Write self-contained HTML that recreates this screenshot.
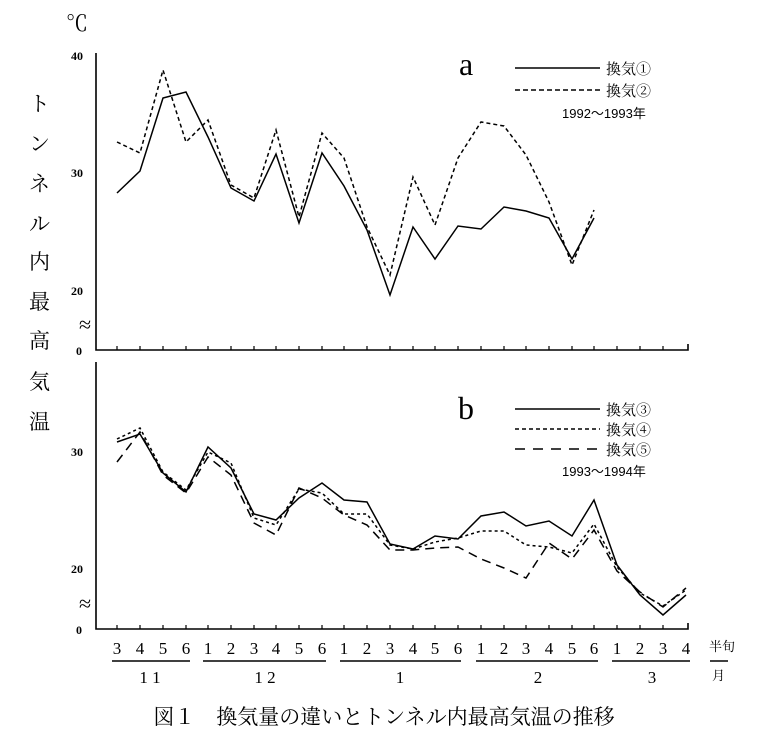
<!DOCTYPE html>
<html><head><meta charset="utf-8"><style>
body{margin:0;background:#fff}
svg text{font-family:"Liberation Serif","Noto Serif CJK SC","Noto Sans CJK JP",serif;fill:#000}
.s{font-family:"Liberation Sans","Noto Sans CJK JP",sans-serif}
</style></head><body>
<svg width="767" height="737" viewBox="0 0 767 737" xmlns="http://www.w3.org/2000/svg">
<g font-size="21">
<text x="29" y="111">ト</text><text x="29" y="151">ン</text><text x="29" y="191">ネ</text>
<text x="29" y="231">ル</text><text x="29" y="269">内</text><text x="29" y="309">最</text>
<text x="29" y="348">高</text><text x="29" y="389">気</text><text x="29" y="429">温</text>
</g>
<text x="66" y="31" font-size="22">℃</text>
<g font-size="12" class="s" font-weight="bold">
<text x="71" y="60">40</text><text x="71" y="177">30</text><text x="71" y="295">20</text><text x="76" y="355">0</text>
<text x="71" y="456">30</text><text x="71" y="573">20</text><text x="76" y="634">0</text>
</g>
<text x="79" y="332" font-size="22">≈</text>
<text x="79" y="611" font-size="22">≈</text>
<g stroke="#000" fill="none" stroke-width="1.6">
<path d="M96 53 V350 H688 V344"/>
<path d="M96 362 V629 H688 V623"/>
</g>
<g stroke="#000" stroke-width="1.2">
<path d="M117 350v-4M140 350v-4M163 350v-4M186 350v-4M208 350v-4M231 350v-4M254 350v-4M276 350v-4M299 350v-4M322 350v-4M344 350v-4M367 350v-4M390 350v-4M413 350v-4M435 350v-4M458 350v-4M481 350v-4M504 350v-4M526 350v-4M549 350v-4M572 350v-4M594 350v-4M617 350v-4M640 350v-4M663 350v-4"/>
<path d="M117 629v-4M140 629v-4M163 629v-4M186 629v-4M208 629v-4M231 629v-4M254 629v-4M276 629v-4M299 629v-4M322 629v-4M344 629v-4M367 629v-4M390 629v-4M413 629v-4M435 629v-4M458 629v-4M481 629v-4M504 629v-4M526 629v-4M549 629v-4M572 629v-4M594 629v-4M617 629v-4M640 629v-4M663 629v-4"/>
</g>
<g fill="none" stroke="#000" stroke-width="1.5">
<polyline points="117,193 140,171 163,98 186,92 208,137 231,188 254,201 276,154 299,223 322,153 344,186 367,230 390,295 413,227 435,259 458,226 481,229 504,207 526,211 549,218 572,259 594,218"/>
<polyline stroke-dasharray="4,3" points="117,142 140,153 163,70 186,142 208,120 231,185 254,198 276,130 299,217 322,133 344,158 367,227 390,275 413,177 435,225 458,158 481,122 504,126 526,155 549,202 572,265 594,210"/>
<polyline points="117,442 140,434 163,473 186,492 208,447 231,468 254,514 276,520 299,498 322,483 344,500 367,502 390,544 413,549 435,536 458,539 481,516 504,512 526,526 549,521 572,536 594,500 617,565 640,595 663,615 686,595"/>
<polyline stroke-dasharray="3,3" points="117,439 140,428 163,472 186,490 208,452 231,463 254,518 276,525 299,489 322,493 344,514 367,514 390,545 413,549 435,542 458,538 481,531 504,531 526,545 549,547 572,553 594,524 617,567 640,593 663,606 686,590"/>
<polyline stroke-dasharray="9,6" points="117,462 140,432 163,475 186,493 208,457 231,475 254,523 276,535 299,488 322,498 344,515 367,525 390,550 413,550 435,548 458,547 481,559 504,568 526,578 549,543 572,559 594,530 617,571 640,592 663,607 686,588"/>
</g>
<text x="459" y="75" font-size="32">a</text>
<text x="458" y="419" font-size="32">b</text>
<g stroke="#000" stroke-width="1.5">
<path d="M515 68H600"/><path d="M515 90H600" stroke-dasharray="5,3"/>
<path d="M515 409H600"/><path d="M515 429H600" stroke-dasharray="4,3"/><path d="M515 449H600" stroke-dasharray="10,8"/>
</g>
<g font-size="15">
<text x="606" y="74">換気①</text><text x="606" y="96">換気②</text><text x="562" y="118" class="s" font-size="13">1992～1993年</text>
<text x="606" y="415">換気③</text><text x="606" y="435">換気④</text><text x="606" y="455">換気⑤</text><text x="562" y="476" class="s" font-size="13">1993～1994年</text>
</g>
<g font-size="17" text-anchor="middle">
<text x="117" y="654">3</text><text x="140" y="654">4</text><text x="163" y="654">5</text><text x="186" y="654">6</text>
<text x="208" y="654">1</text><text x="231" y="654">2</text><text x="254" y="654">3</text><text x="276" y="654">4</text><text x="299" y="654">5</text><text x="322" y="654">6</text>
<text x="344" y="654">1</text><text x="367" y="654">2</text><text x="390" y="654">3</text><text x="413" y="654">4</text><text x="435" y="654">5</text><text x="458" y="654">6</text>
<text x="481" y="654">1</text><text x="504" y="654">2</text><text x="526" y="654">3</text><text x="549" y="654">4</text><text x="572" y="654">5</text><text x="594" y="654">6</text>
<text x="617" y="654">1</text><text x="640" y="654">2</text><text x="663" y="654">3</text><text x="686" y="654">4</text>
<text x="150" y="683">1 1</text><text x="265" y="683">1 2</text><text x="400" y="683">1</text><text x="538" y="683">2</text><text x="652" y="683">3</text>
</g>
<g stroke="#000" stroke-width="1.4">
<path d="M112 661H190M203 661H326M340 661H461M476 661H598M612 661H690M710 661H728"/>
</g>
<text x="709" y="651" font-size="13">半旬</text><text x="712" y="680" font-size="13">月</text>
<text x="384" y="724" font-size="21" text-anchor="middle" style="font-family:'Noto Serif CJK SC','Noto Sans CJK JP',serif">図１　換気量の違いとトンネル内最高気温の推移</text>
</svg>
</body></html>
